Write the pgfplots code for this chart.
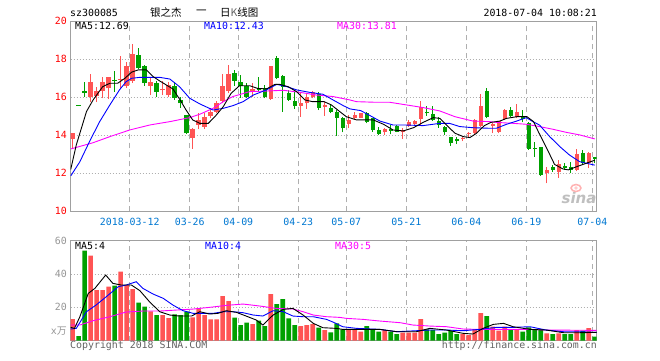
\documentclass[border=0pt]{standalone}
\usepackage{fontspec}
\setmainfont{DejaVu Sans Mono}
\newfontfamily\cjk{Noto Sans CJK SC}
\newfontfamily\logofont{DejaVu Sans}
\usepackage{pgfplots}
\usepackage{pgfplotstable}
\pgfplotsset{compat=1.18}
\definecolor{cred}{RGB}{255,84,84}
\definecolor{cgreen}{RGB}{0,160,0}
\definecolor{cborder}{RGB}{160,160,160}
\definecolor{cgrid}{RGB}{175,175,175}
\definecolor{cdate}{RGB}{0,120,210}
\definecolor{cmag}{RGB}{255,0,255}
\definecolor{cblue}{RGB}{0,0,255}
\definecolor{cvol}{RGB}{150,150,150}
\definecolor{ccopy}{RGB}{100,100,100}

\pgfplotstableread{
i o h l c v
0 13.81 14.14 13.32 14.14 13.0
3 16.04 17.21 15.74 16.79 51
4 16.09 16.56 15.74 16.33 30.4
5 16.33 17.09 15.95 16.79 30.4
6 16.47 17.07 15.91 17.07 32.4
8 16.90 18.19 16.50 16.97 41.4
9 16.61 17.88 16.51 17.67 33.4
10 16.86 18.79 16.74 18.28 31.0
13 16.61 17.09 16.12 16.82 17.6
15 16.37 16.86 16.12 16.42 15.4
16 16.12 16.82 16.04 16.65 13.6
20 13.88 14.37 13.28 14.33 14.0
21 14.54 15.16 14.33 14.81 19.4
22 14.46 15.16 14.33 14.95 15.4
23 15.04 15.42 14.89 15.21 12.8
24 15.25 15.81 15.16 15.68 12.8
25 15.81 17.21 15.68 16.60 26.8
26 16.33 17.70 16.21 17.21 23.8
30 16.30 16.74 16.04 16.44 10.0
33 15.91 17.65 15.86 17.65 28.0
38 15.56 16.21 14.98 15.68 8.8
39 15.68 16.16 15.39 16.04 9.4
40 16.04 16.33 15.95 16.26 10.0
42 15.51 15.74 15.04 15.56 6.4
46 14.58 15.07 14.37 14.81 6.8
47 14.93 15.25 14.81 15.07 6.8
48 14.93 15.20 14.90 15.16 5.4
52 14.16 14.37 14.02 14.33 6.4
55 14.19 14.37 13.81 14.28 4.8
56 14.51 14.81 14.46 14.68 4.8
57 14.58 14.81 14.54 14.75 4.8
58 14.86 15.81 14.54 15.51 13.0
65 13.82 13.93 13.70 13.86 4.0
66 14.05 14.19 13.93 14.11 3.4
67 14.11 14.84 14.02 14.81 7.0
68 14.51 16.16 14.46 15.56 16.6
70 14.51 14.63 14.10 14.56 8.4
71 14.19 14.75 14.10 14.75 6.0
72 14.86 15.39 14.81 15.33 8.4
74 14.98 15.63 14.89 15.21 6.8
79 12.00 12.35 11.47 12.18 4.4
81 12.05 12.70 11.77 12.47 4.4
84 12.18 13.26 12.12 13.00 6.4
86 12.53 13.14 12.26 13.05 7.6
}\redt

\pgfplotstableread{
i o h l c v
1 15.56 15.56 15.56 15.56 2.8
2 16.30 16.82 16.04 16.25 54
7 16.90 17.39 16.30 16.85 33.0
11 18.23 18.61 17.49 17.56 22.8
12 17.67 17.70 16.61 16.74 20.4
14 16.74 16.86 16.04 16.30 15.4
17 16.60 16.82 15.86 15.98 15.8
18 15.86 16.04 15.46 15.68 15.4
19 15.07 15.07 14.07 14.11 17.4
27 17.26 17.44 16.61 16.88 13.8
28 16.79 17.18 15.98 16.61 9.4
29 16.61 16.74 15.98 16.04 10.8
31 16.47 17.09 16.30 16.40 12.0
32 16.47 16.65 15.95 16.04 8.8
34 18.05 18.19 16.96 17.00 22.0
35 17.12 17.18 15.25 16.56 25.0
36 16.21 16.39 15.81 15.86 13.4
37 15.81 16.30 15.39 15.56 9.4
41 16.16 16.26 15.33 15.46 7.8
43 15.46 15.63 15.16 15.25 5.0
44 15.25 15.33 13.98 14.93 10.4
45 14.93 14.98 14.16 14.37 6.8
49 15.16 15.25 14.63 14.72 8.8
50 14.89 14.93 14.19 14.28 6.8
51 14.28 14.46 14.02 14.07 5.4
53 14.30 14.54 14.05 14.25 5.4
54 14.49 14.54 14.16 14.19 4.0
59 15.25 15.56 15.04 15.16 6.8
60 15.11 15.56 14.75 14.81 6.4
61 14.75 14.98 14.40 14.54 4.0
62 14.46 14.49 14.02 14.16 4.8
63 13.93 13.93 13.46 13.58 6.0
64 13.77 13.93 13.53 13.72 4.0
69 16.33 16.51 14.89 14.98 14.8
73 15.33 15.51 14.98 15.04 6.8
75 15.04 15.33 14.68 14.86 5.4
76 14.63 14.68 13.23 13.28 8.0
77 13.33 13.67 12.88 13.28 6.4
78 13.37 13.40 11.88 11.91 6.8
80 12.35 12.44 12.09 12.18 4.0
82 12.35 12.53 12.18 12.30 4.0
83 12.35 12.61 12.00 12.18 4.0
85 13.05 13.23 12.47 12.53 6.0
87 12.88 12.88 12.53 12.75 2.4
}\greent

\pgfplotsset{
  kbase/.style={
    scale only axis, width=526pt,
    xmin=-0.33, xmax=87.33,
    xtick={9.5,19.5,27.6,37.6,45.6,55.6,65.6,75.6,86.6},
    major tick length=0pt,
    xmajorgrids, ymajorgrids,
    x grid style={draw=cgrid, line width=1pt, dash pattern=on 5pt off 4pt},
    y grid style={draw=cgrid, line width=0.8pt, dash pattern=on 1pt off 2pt},
    axis line style={draw=cborder, line width=1pt},
    /pgf/number format/assume math mode=true,
    clip=true,
  },
  wick/.style={draw=none, mark=none, forget plot,
    error bars/.cd, y dir=plus, y explicit, error mark=none,
    error bar style={line width=1pt, draw=#1}},
  body/.style={draw=none, mark=none, forget plot,
    error bars/.cd, y dir=plus, y explicit, error mark=none,
    error bar style={line width=4.4pt, draw=#1}},
}

\begin{document}
\begin{tikzpicture}
\path[use as bounding box, fill=white] (0,0) rectangle (660pt,360pt);

% ---------------- main K-line panel ----------------
\begin{axis}[kbase,
  at={(70.7pt,148.7pt)}, anchor=south west, height=190pt,
  ymin=10, ymax=20, ytick={10,12,...,20},
  xticklabels={2018-03-12,03-26,04-09,04-23,05-07,05-21,06-04,06-19,07-04},
  xticklabel style={font=\fontsize{9.9}{11}\selectfont, text=cdate, anchor=center, yshift=-10.4pt, inner sep=0pt},
  yticklabel style={font=\fontsize{9.9}{11}\selectfont, text=red, anchor=east, inner sep=0pt, xshift=-3.7pt},
]
\addplot[wick=cred] table[x=i, y=l, y error expr=\thisrow{h}-\thisrow{l}] {\redt};
\addplot[wick=cgreen] table[x=i, y=l, y error expr=\thisrow{h}-\thisrow{l}] {\greent};
\addplot[body=cred] table[x=i, y=o, y error expr={max(\thisrow{c}-\thisrow{o},0.06)}] {\redt};
\addplot[body=cgreen] table[x=i, y=c, y error expr={max(\thisrow{o}-\thisrow{c},0.06)}] {\greent};

% MA30
\addplot[cmag, line width=0.9pt, mark=none] coordinates {
(-0.33,13.28) (3.4,13.61) (6.2,13.93) (9.5,14.28) (12.8,14.54) (16.2,14.72) (19.5,14.93) (21.2,15.11) (23.4,15.42) (25.1,15.77) (26.7,16.04) (29.5,16.30) (32.3,16.33) (35.1,16.37) (37.9,16.26) (40.6,16.12) (43.4,16.04) (46.2,15.86) (47.3,15.77) (50.3,15.74) (52.8,15.74) (55.6,15.60) (58.4,15.46) (61.2,15.28) (63.7,14.98) (66.7,14.75) (69.5,14.72) (70.6,14.68) (73.4,14.63) (75.6,14.58) (77.8,14.46) (80,14.32) (82.2,14.16) (84.5,14.02) (87,13.81)};
% MA10
\addplot[cblue, line width=0.9pt, mark=none] coordinates {
(-0.33,11.86) (1.2,12.61) (2.8,13.67) (4.5,14.72) (6.2,15.6) (7.8,16.39) (8.9,16.82) (9.8,17.0) (11.2,17.05) (14.5,17.05) (16.2,16.96) (17.8,16.56) (19.5,15.95) (21.2,15.65) (23.4,15.33) (25.1,15.42) (26.7,15.56) (28.4,15.77) (30.1,16.12) (32.3,16.39) (34,16.68) (35.7,16.56) (37.3,16.39) (39.5,16.26) (41.7,16.16) (43.4,15.86) (45.1,15.56) (46.2,15.39) (48,15.3) (50,14.96) (51.2,14.75) (53.4,14.54) (55.6,14.54) (58.4,14.51) (61.2,14.63) (62.8,14.63) (64.5,14.46) (66.7,14.40) (69.5,14.37) (70.6,14.37) (72.3,14.58) (74,14.75) (75.6,14.93) (76.7,14.72) (77.8,14.54) (79.5,13.93) (81.2,13.40) (82.8,12.96) (84.5,12.61) (87,12.43)};
% MA5
\addplot[black, line width=0.9pt, mark=none] coordinates {
(-0.33,12.2) (0.6,13.49) (2.3,15.25) (3.4,15.86) (5,16.56) (6.2,16.74) (7.5,16.74) (8.7,17.0) (9.8,17.32) (10.9,17.44) (12.3,17.44) (13.4,17.09) (14.5,16.86) (15.6,16.65) (16.7,16.44) (17.8,15.91) (18.9,15.33) (20,14.81) (21.2,14.63) (22.6,14.63) (23.7,14.98) (25.1,15.51) (26.4,16.21) (27.8,16.61) (29.5,16.61) (30.8,16.47) (32.3,16.44) (33.7,16.68) (34.5,16.68) (35.9,16.56) (37.3,16.30) (38.7,15.86) (40,15.77) (41.9,15.77) (43.1,15.60) (44.5,15.25) (45.6,14.98) (47.3,14.81) (50.1,14.81) (51.8,14.58) (53.4,14.28) (55.1,14.23) (56.8,14.40) (58.4,14.68) (60.1,14.93) (61.2,14.89) (62.3,14.54) (63.7,14.11) (65.1,13.93) (66.2,13.88) (67.3,14.11) (68.6,14.51) (69.7,14.68) (71.2,14.75) (72.3,14.89) (74,14.98) (75.7,14.98) (76.8,14.72) (77.6,14.19) (79,13.32) (80.3,12.47) (81.7,12.23) (82.6,12.18) (84,12.35) (85.6,12.53) (87,12.69)};
\end{axis}

% ---------------- volume panel ----------------
\begin{axis}[kbase,
  at={(70.7pt,19.3pt)}, anchor=south west, height=100pt,
  ymin=0, ymax=60, ytick={20,40,60},
  xticklabels={},
  yticklabel style={font=\fontsize{9.9}{11}\selectfont, text=cvol, anchor=east, inner sep=0pt, xshift=-3.7pt},
]
\addplot[ybar, bar width=4.6pt, bar shift=0pt, fill=cred, draw=none, forget plot] table[x=i, y=v] {\redt};
\addplot[ybar, bar width=4.6pt, bar shift=0pt, fill=cgreen, draw=none, forget plot] table[x=i, y=v] {\greent};
% MA30
\addplot[cmag, line width=0.9pt, mark=none] coordinates {
(-0.33,9.4) (1.2,9.4) (3.4,12) (6.2,14.4) (8.9,17.2) (11.7,17.8) (14.5,17.8) (17.3,18.4) (20.1,19) (22.8,20) (25.6,21.2) (28.4,22) (31.2,20.8) (33.9,19.4) (36.7,19) (38.4,17.4) (40.1,15.4) (42.3,14.4) (44.5,14) (45.6,13.4) (48.4,12.8) (51.2,11.8) (54.6,10.8) (56.7,9.4) (59.5,8.8) (62.3,8.4) (65.1,7) (67.8,6.8) (76.2,6.8) (78.9,6.4) (87.3,6.2)};
% MA10
\addplot[cblue, line width=0.9pt, mark=none] coordinates {
(-0.33,7) (0.6,7.4) (2.3,17.4) (3.9,21.4) (5.6,26.4) (7.6,32.4) (8.9,33.4) (10.6,35.4) (11.7,31.4) (13.4,28) (15.1,25.4) (16.7,21.4) (18.4,18) (20.1,16.4) (23.4,16.4) (25.1,17.4) (26.7,17.4) (28.4,16.8) (30.1,15.4) (31.7,14.8) (33.4,18) (35.1,17.4) (36.7,14.8) (38.4,14.4) (40.1,14.4) (42.3,12.8) (43.5,11) (45,8.4) (47.3,7.4) (51.2,6.8) (54,5.4) (57.3,6) (59.5,6.4) (62.3,6.4) (65.1,6) (67.8,6.8) (70.6,8) (73.4,8) (76.2,8.4) (78.9,6.4) (81.8,5.4) (84.5,5.4) (87.3,5)};
% MA5
\addplot[black, line width=0.9pt, mark=none] coordinates {
(-0.33,8) (0.3,7.4) (1.2,14.4) (2.6,28.4) (3.7,31.4) (5.5,39.4) (6.7,34.4) (8.1,33.4) (9.8,33.4) (11.2,30) (12.8,23.4) (14.5,17.4) (16.2,15.4) (17.8,14.8) (19.8,14.8) (21.2,17.4) (22.8,16) (24.2,16.4) (25.6,18) (27.3,17) (28.9,14.8) (30.6,12.4) (31.7,9.4) (33.4,15.4) (35.1,18.8) (36.7,19.4) (38.4,15.4) (40.1,10.4) (41.7,7.8) (43.9,7.4) (45,6.8) (48.4,6.8) (51.2,6.8) (54,5.4) (57.3,5.4) (59.5,7.4) (62.3,6.4) (65.1,4.4) (66.7,4) (68.4,7.4) (70.1,9.8) (71.8,10.4) (73.4,8.4) (76.2,6.8) (78.9,6.4) (81.8,4.8) (84.5,4.8) (87.3,5.0)};
\end{axis}

% ---------------- texts ----------------
\begin{scope}[every node/.style={inner sep=0pt, font=\fontsize{9.9}{11}\selectfont}]
\node[anchor=west] at (70pt,347pt) {sz300085};
\node[anchor=west, font=\cjk\fontsize{10.5}{12}\selectfont] at (150pt,347.5pt) {银之杰};
\node[anchor=west, font=\cjk\fontsize{10.5}{12}\selectfont] at (196pt,347.5pt) {一};
\node[anchor=west, font=\cjk\fontsize{10.5}{12}\selectfont] at (220pt,347.5pt) {日\textcolor{ccopy}{K}线图};
\node[anchor=east] at (597pt,347pt) {2018-07-04 10:08:21};
\node[anchor=west] at (75pt,334pt) {MA5:12.69};
\node[anchor=west, text=cblue] at (204pt,334pt) {MA10:12.43};
\node[anchor=west, text=cmag] at (337pt,334pt) {MA30:13.81};
\node[anchor=west] at (75pt,114pt) {MA5:4};
\node[anchor=west, text=cblue] at (205pt,114pt) {MA10:4};
\node[anchor=west, text=cmag] at (335pt,114pt) {MA30:5};
\node[anchor=east, text=cvol] at (67pt,29pt) {x{\cjk 万}};
\node[anchor=west, text=ccopy] at (70pt,14pt) {Copyright 2018 SINA.COM};
\node[anchor=east, text=ccopy] at (597pt,14pt) {http://finance.sina.com.cn};
\node[text=black!25, font=\logofont\bfseries\itshape\fontsize{15}{16}\selectfont] at (579pt,162pt) {sina};
\draw[red!30, line width=1.5pt] (576pt,172pt) ellipse (5pt and 3.5pt);
\fill[red!20] (576pt,172pt) circle (1.8pt);
\end{scope}
\end{tikzpicture}
\end{document}
